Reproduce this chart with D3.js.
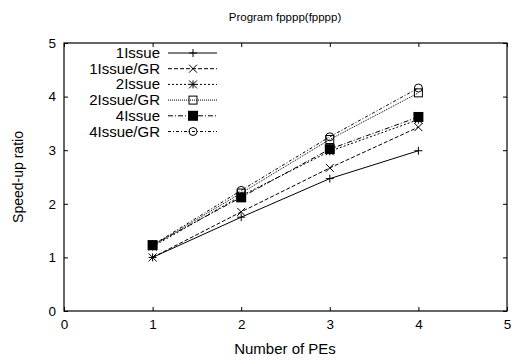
<!DOCTYPE html>
<html><head><meta charset="utf-8">
<script src="https://cdn.jsdelivr.net/npm/d3@7"></script>
<style>body{margin:0;background:#fff}svg{font-family:"Liberation Sans",Arial,sans-serif}</style>
</head><body><svg id="c" width="523" height="361"></svg>
<script>
const title = "Program fpppp(fpppp)";
const xLabel = "Number of PEs";
const yLabel = "Speed-up ratio";
const xTicks = [0,1,2,3,4,5];
const yTicks = [0,1,2,3,4,5];
const pes = [1,2,3,4];
const seriesNames = ["1Issue","1Issue/GR","2Issue","2Issue/GR","4Issue","4Issue/GR"];
const s1Issue   = [1.00,1.75,2.47,2.99];
const s1IssueGR = [1.00,1.85,2.67,3.43];
const s2Issue   = [1.20,2.15,2.98,3.57];
const s2IssueGR = [1.22,2.20,3.20,4.07];
const s4Issue   = [1.23,2.12,3.02,3.62];
const s4IssueGR = [1.23,2.25,3.25,4.16];
const seriesValues = [s1Issue,s1IssueGR,s2Issue,s2IssueGR,s4Issue,s4IssueGR];
const dashes = [null,"4,2","2,2","1,1","5,2,1,2","3,2,1,2"];
const markers = ["plus","cross","star","box","fbox","circle"];

const svg = d3.select("#c");
const L=64,R=507,T=43,B=311;
const x = d3.scaleLinear().domain([0,5]).range([L,R]);
const y = d3.scaleLinear().domain([0,5]).range([B,T]);

svg.append("text").attr("x",285).attr("y",21).attr("text-anchor","middle").attr("font-size",11.5).text(title);
svg.append("text").attr("x",285).attr("y",354).attr("text-anchor","middle").attr("font-size",15).text(xLabel);
svg.append("text").attr("transform","translate(23,177) rotate(-90)").attr("text-anchor","middle").attr("font-size",14).text(yLabel);

const tl=4;
const g = svg.append("g");
g.append("g").attr("transform",`translate(0,${B})`).call(d3.axisBottom(x).tickValues(xTicks).tickSizeInner(-tl).tickSizeOuter(0).tickPadding(8).tickFormat(d3.format("d")));
g.append("g").attr("transform",`translate(0,${T})`).call(d3.axisTop(x).tickValues(xTicks).tickSizeInner(-tl).tickSizeOuter(0).tickFormat(""));
g.append("g").attr("transform",`translate(${L},0)`).call(d3.axisLeft(y).tickValues(yTicks).tickSizeInner(-tl).tickSizeOuter(0).tickPadding(8).tickFormat(d3.format("d")));
g.append("g").attr("transform",`translate(${R},0)`).call(d3.axisRight(y).tickValues(yTicks).tickSizeInner(-tl).tickSizeOuter(0).tickFormat(""));
g.selectAll(".domain").remove();
g.selectAll(".tick line").attr("stroke","#000");
g.selectAll(".tick text").attr("font-size",13.5).attr("fill","#000").attr("font-family","Liberation Sans, Arial, sans-serif");
svg.append("rect").attr("x",L).attr("y",T).attr("width",R-L).attr("height",B-T).attr("fill","none").attr("stroke","#000").attr("stroke-width",1.2);

function drawMarker(sel,type,cx,cy){
  const s=4;
  if(type==="plus"){sel.append("path").attr("d",`M${cx-s},${cy}H${cx+s}M${cx},${cy-s}V${cy+s}`).attr("stroke","#000");}
  else if(type==="cross"){sel.append("path").attr("d",`M${cx-s},${cy-s}L${cx+s},${cy+s}M${cx-s},${cy+s}L${cx+s},${cy-s}`).attr("stroke","#000");}
  else if(type==="star"){sel.append("path").attr("d",`M${cx-s},${cy}H${cx+s}M${cx},${cy-s}V${cy+s}M${cx-s},${cy-s}L${cx+s},${cy+s}M${cx-s},${cy+s}L${cx+s},${cy-s}`).attr("stroke","#000");}
  else if(type==="box"){sel.append("rect").attr("x",cx-s).attr("y",cy-s).attr("width",2*s).attr("height",2*s).attr("fill","none").attr("stroke","#000");}
  else if(type==="fbox"){sel.append("rect").attr("x",cx-5).attr("y",cy-5).attr("width",10).attr("height",10).attr("fill","#000");}
  else if(type==="circle"){sel.append("circle").attr("cx",cx).attr("cy",cy).attr("r",s).attr("fill","none").attr("stroke","#000");}
}

const line = d3.line().x((d,i)=>x(pes[i])).y(d=>y(d));
seriesValues.forEach((vals,k)=>{
  const gs=svg.append("g");
  gs.append("path").attr("d",line(vals)).attr("fill","none").attr("stroke","#000").attr("stroke-width",1).attr("stroke-dasharray",dashes[k]);
  vals.forEach((v,i)=>drawMarker(gs,markers[k],x(pes[i]),y(v)));
});

// legend
seriesNames.forEach((n,k)=>{
  const ly=53+15.7*k;
  svg.append("text").attr("x",160).attr("y",ly+5).attr("text-anchor","end").attr("font-size",15).text(n);
  svg.append("line").attr("x1",168).attr("x2",217).attr("y1",ly).attr("y2",ly).attr("stroke","#000").attr("stroke-dasharray",dashes[k]);
  drawMarker(svg,markers[k],193,ly);
});
</script></body></html>
